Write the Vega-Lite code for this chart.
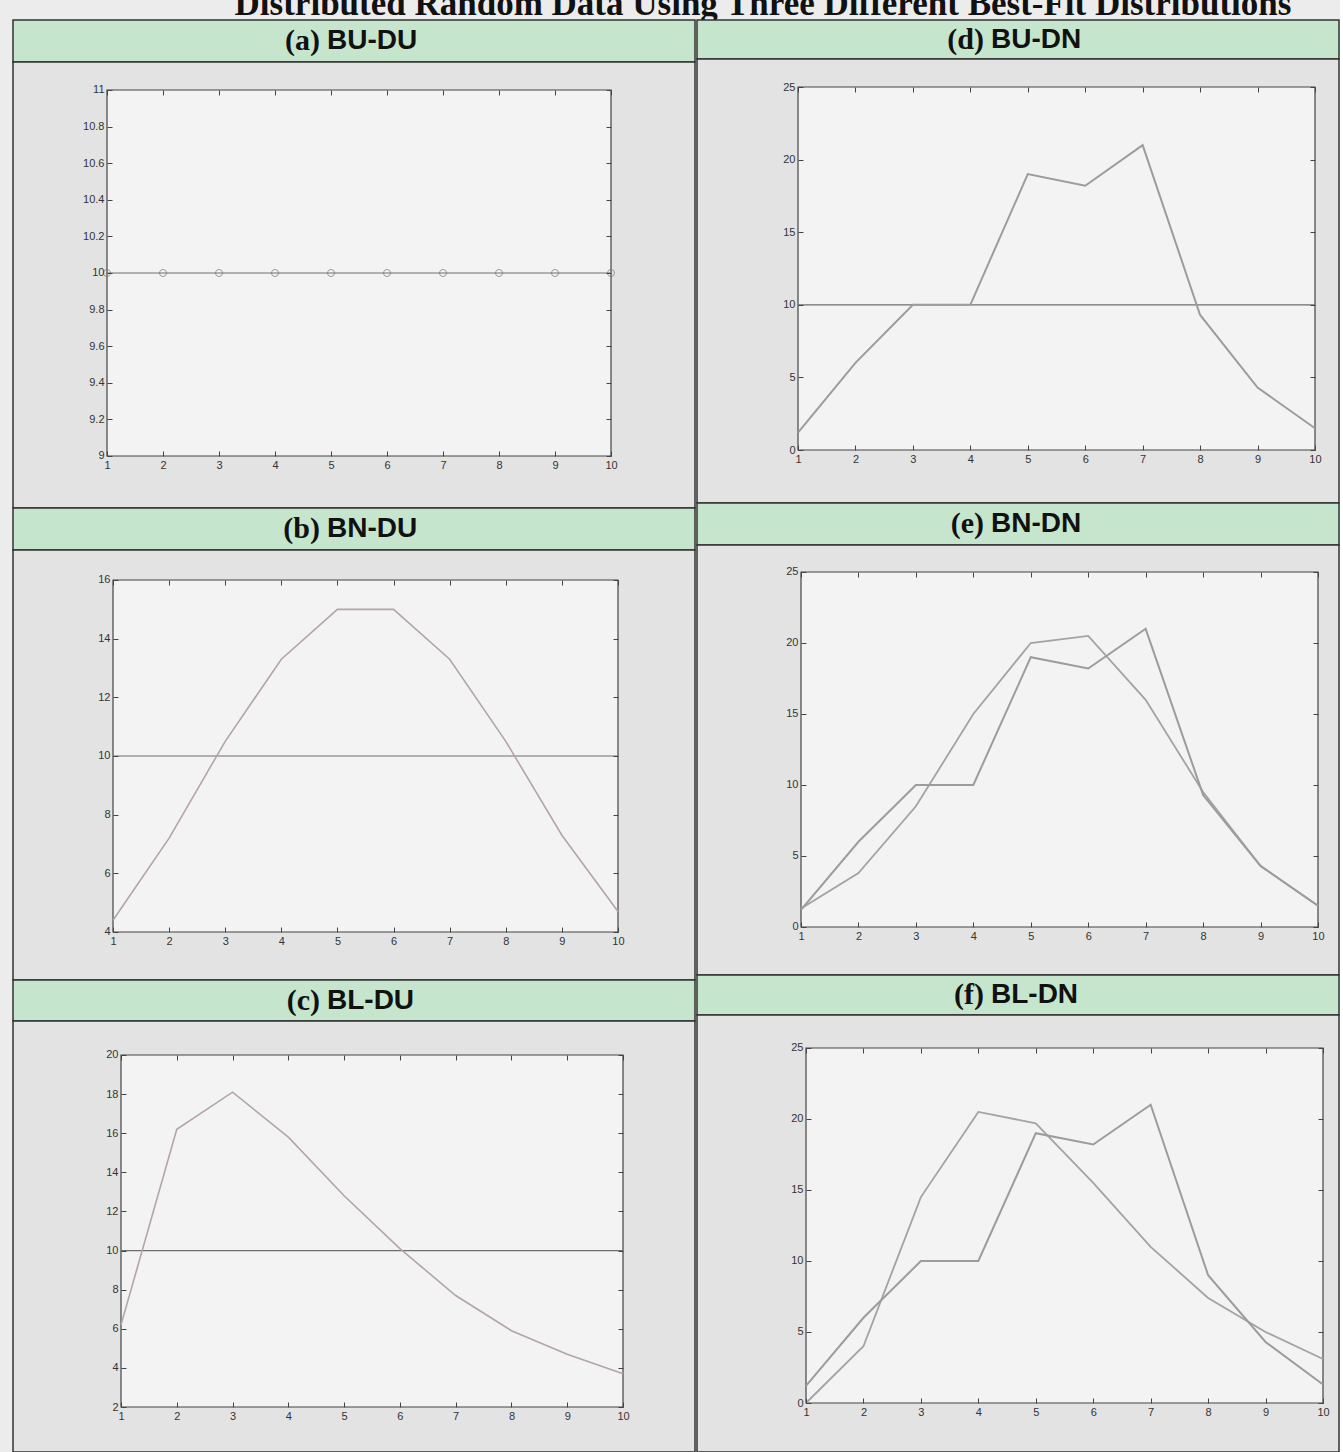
{
  "$schema": "https://vega.github.io/schema/vega-lite/v6.json",
  "background": "#ececec",
  "padding": {"left": 12, "top": 0, "right": 0, "bottom": 0},
  "config": {
    "view": {"stroke": null},
    "axis": {"domain": false, "grid": false, "tickSize": -5, "labelPadding": 8, "tickColor": "#444", "tickWidth": 1, "labelFont": "Liberation Sans", "labelFontSize": 11, "labelColor": "#333", "format": "~r"}
  },
  "datasets": {
    "a": [
      {"x": 1, "y": 10, "s": "data"}, {"x": 2, "y": 10, "s": "data"}, {"x": 3, "y": 10, "s": "data"}, {"x": 4, "y": 10, "s": "data"}, {"x": 5, "y": 10, "s": "data"},
      {"x": 6, "y": 10, "s": "data"}, {"x": 7, "y": 10, "s": "data"}, {"x": 8, "y": 10, "s": "data"}, {"x": 9, "y": 10, "s": "data"}, {"x": 10, "y": 10, "s": "data"}
    ],
    "b": [
      {"x": 1, "y": 4.4, "s": "fit"}, {"x": 2, "y": 7.2, "s": "fit"}, {"x": 3, "y": 10.5, "s": "fit"}, {"x": 4, "y": 13.3, "s": "fit"}, {"x": 5, "y": 15.0, "s": "fit"},
      {"x": 6, "y": 15.0, "s": "fit"}, {"x": 7, "y": 13.3, "s": "fit"}, {"x": 8, "y": 10.5, "s": "fit"}, {"x": 9, "y": 7.3, "s": "fit"}, {"x": 10, "y": 4.7, "s": "fit"},
      {"x": 1, "y": 10, "s": "data"}, {"x": 2, "y": 10, "s": "data"}, {"x": 3, "y": 10, "s": "data"}, {"x": 4, "y": 10, "s": "data"}, {"x": 5, "y": 10, "s": "data"},
      {"x": 6, "y": 10, "s": "data"}, {"x": 7, "y": 10, "s": "data"}, {"x": 8, "y": 10, "s": "data"}, {"x": 9, "y": 10, "s": "data"}, {"x": 10, "y": 10, "s": "data"}
    ],
    "c": [
      {"x": 1, "y": 6.2, "s": "fit"}, {"x": 2, "y": 16.2, "s": "fit"}, {"x": 3, "y": 18.1, "s": "fit"}, {"x": 4, "y": 15.8, "s": "fit"}, {"x": 5, "y": 12.8, "s": "fit"},
      {"x": 6, "y": 10.1, "s": "fit"}, {"x": 7, "y": 7.7, "s": "fit"}, {"x": 8, "y": 5.9, "s": "fit"}, {"x": 9, "y": 4.7, "s": "fit"}, {"x": 10, "y": 3.7, "s": "fit"},
      {"x": 1, "y": 10, "s": "data"}, {"x": 2, "y": 10, "s": "data"}, {"x": 3, "y": 10, "s": "data"}, {"x": 4, "y": 10, "s": "data"}, {"x": 5, "y": 10, "s": "data"},
      {"x": 6, "y": 10, "s": "data"}, {"x": 7, "y": 10, "s": "data"}, {"x": 8, "y": 10, "s": "data"}, {"x": 9, "y": 10, "s": "data"}, {"x": 10, "y": 10, "s": "data"}
    ],
    "d": [
      {"x": 1, "y": 10, "s": "fit"}, {"x": 2, "y": 10, "s": "fit"}, {"x": 3, "y": 10, "s": "fit"}, {"x": 4, "y": 10, "s": "fit"}, {"x": 5, "y": 10, "s": "fit"},
      {"x": 6, "y": 10, "s": "fit"}, {"x": 7, "y": 10, "s": "fit"}, {"x": 8, "y": 10, "s": "fit"}, {"x": 9, "y": 10, "s": "fit"}, {"x": 10, "y": 10, "s": "fit"},
      {"x": 1, "y": 1.2, "s": "data"}, {"x": 2, "y": 6.0, "s": "data"}, {"x": 3, "y": 10.0, "s": "data"}, {"x": 4, "y": 10.0, "s": "data"}, {"x": 5, "y": 19.0, "s": "data"},
      {"x": 6, "y": 18.2, "s": "data"}, {"x": 7, "y": 21.0, "s": "data"}, {"x": 8, "y": 9.3, "s": "data"}, {"x": 9, "y": 4.3, "s": "data"}, {"x": 10, "y": 1.5, "s": "data"}
    ],
    "e": [
      {"x": 1, "y": 1.3, "s": "fit"}, {"x": 2, "y": 3.8, "s": "fit"}, {"x": 3, "y": 8.5, "s": "fit"}, {"x": 4, "y": 15.0, "s": "fit"}, {"x": 5, "y": 20.0, "s": "fit"},
      {"x": 6, "y": 20.5, "s": "fit"}, {"x": 7, "y": 16.0, "s": "fit"}, {"x": 8, "y": 9.5, "s": "fit"}, {"x": 9, "y": 4.3, "s": "fit"}, {"x": 10, "y": 1.5, "s": "fit"},
      {"x": 1, "y": 1.2, "s": "data"}, {"x": 2, "y": 6.0, "s": "data"}, {"x": 3, "y": 10.0, "s": "data"}, {"x": 4, "y": 10.0, "s": "data"}, {"x": 5, "y": 19.0, "s": "data"},
      {"x": 6, "y": 18.2, "s": "data"}, {"x": 7, "y": 21.0, "s": "data"}, {"x": 8, "y": 9.3, "s": "data"}, {"x": 9, "y": 4.3, "s": "data"}, {"x": 10, "y": 1.5, "s": "data"}
    ],
    "f": [
      {"x": 1, "y": 0.0, "s": "fit"}, {"x": 2, "y": 4.0, "s": "fit"}, {"x": 3, "y": 14.5, "s": "fit"}, {"x": 4, "y": 20.5, "s": "fit"}, {"x": 5, "y": 19.7, "s": "fit"},
      {"x": 6, "y": 15.5, "s": "fit"}, {"x": 7, "y": 11.0, "s": "fit"}, {"x": 8, "y": 7.4, "s": "fit"}, {"x": 9, "y": 5.0, "s": "fit"}, {"x": 10, "y": 3.1, "s": "fit"},
      {"x": 1, "y": 1.2, "s": "data"}, {"x": 2, "y": 6.0, "s": "data"}, {"x": 3, "y": 10.0, "s": "data"}, {"x": 4, "y": 10.0, "s": "data"}, {"x": 5, "y": 19.0, "s": "data"},
      {"x": 6, "y": 18.2, "s": "data"}, {"x": 7, "y": 21.0, "s": "data"}, {"x": 8, "y": 9.0, "s": "data"}, {"x": 9, "y": 4.3, "s": "data"}, {"x": 10, "y": 1.3, "s": "data"}
    ]
  },
  "spacing": 0,
  "bounds": "flush",
  "vconcat": [
    {
      "width": 1324, "height": 20,
      "data": {"values": [{"t": "Distributed Random Data Using Three Different Best-Fit Distributions"}]},
      "mark": {"type": "text", "clip": true, "font": "Liberation Serif", "fontWeight": "bold", "fontSize": 35, "baseline": "alphabetic", "dy": 5, "dx": 88, "color": "#111"},
      "encoding": {"text": {"field": "t"}}
    },
    {
      "spacing": 0,
      "bounds": "full",
      "hconcat": [
        {
          "spacing": 0, "bounds": "flush",
          "vconcat": [
            {
              "width": 682, "height": 42,
              "view": {"fill": "#c5e6cd", "stroke": "#333", "strokeWidth": 1.5},
              "data": {"values": [{"tag": "(a)", "name": "BU-DU"}]},
              "layer": [
                {"mark": {"type": "text", "font": "Liberation Serif", "fontWeight": "bold", "fontSize": 30, "align": "right", "dx": -34, "color": "#111"}, "encoding": {"text": {"field": "tag"}}},
                {"mark": {"type": "text", "font": "Liberation Sans", "fontWeight": "bold", "fontSize": 28, "align": "left", "dx": -27, "color": "#111"}, "encoding": {"text": {"field": "name"}}}
              ]
            },
            {
              "width": 682, "height": 446,
              "view": {"fill": "#e3e3e3", "stroke": "#333", "strokeWidth": 1.5},
              "layer": [
                {
                  "data": {"name": "a"},
                  "transform": [{"aggregate": [{"op": "count", "as": "n"}]}],
                  "mark": {"type": "rect", "fill": "#f3f3f3", "stroke": "#444", "strokeWidth": 1.2},
                  "encoding": {
                    "x": {"datum": 1, "type": "quantitative", "scale": {"domain": [-0.6786, 11.5], "nice": false, "zero": false}, "axis": {"orient": "top", "zindex": 1, "offset": -28, "values": [1, 2, 3, 4, 5, 6, 7, 8, 9, 10], "labels": false, "title": null}},
                    "x2": {"datum": 10},
                    "y": {"datum": 9, "type": "quantitative", "scale": {"domain": [8.7158, 11.153], "nice": false, "zero": false}, "axis": {"orient": "right", "zindex": 1, "offset": -84, "values": [9, 9.2, 9.4, 9.6, 9.8, 10, 10.2, 10.4, 10.6, 10.8, 11], "labels": false, "title": null}},
                    "y2": {"datum": 11}
                  }
                },
                {
                  "data": {"name": "a"},
                  "mark": {"type": "line", "color": "#6e6e6e", "strokeWidth": 1.2},
                  "encoding": {
                    "x": {"field": "x", "type": "quantitative", "scale": {"domain": [-0.6786, 11.5], "nice": false, "zero": false}, "axis": {"orient": "bottom", "zindex": 1, "offset": -52, "values": [1, 2, 3, 4, 5, 6, 7, 8, 9, 10], "title": null}},
                    "y": {"field": "y", "type": "quantitative", "scale": {"domain": [8.7158, 11.153], "nice": false, "zero": false}, "axis": {"orient": "left", "zindex": 1, "offset": -94, "values": [9, 9.2, 9.4, 9.6, 9.8, 10, 10.2, 10.4, 10.6, 10.8, 11], "title": null}}
                  }
                },
                {
                  "data": {"name": "a"},
                  "mark": {"type": "point", "shape": "circle", "filled": false, "size": 50, "color": "#777", "strokeWidth": 1},
                  "encoding": {
                    "x": {"field": "x", "type": "quantitative", "scale": {"domain": [-0.6786, 11.5], "nice": false, "zero": false}, "axis": null},
                    "y": {"field": "y", "type": "quantitative", "scale": {"domain": [8.7158, 11.153], "nice": false, "zero": false}, "axis": null}
                  }
                }
              ],
              "resolve": {"axis": {"x": "independent", "y": "independent"}}
            },
            {
              "width": 682, "height": 42,
              "view": {"fill": "#c5e6cd", "stroke": "#333", "strokeWidth": 1.5},
              "data": {"values": [{"tag": "(b)", "name": "BN-DU"}]},
              "layer": [
                {"mark": {"type": "text", "font": "Liberation Serif", "fontWeight": "bold", "fontSize": 30, "align": "right", "dx": -34, "color": "#111"}, "encoding": {"text": {"field": "tag"}}},
                {"mark": {"type": "text", "font": "Liberation Sans", "fontWeight": "bold", "fontSize": 28, "align": "left", "dx": -27, "color": "#111"}, "encoding": {"text": {"field": "name"}}}
              ]
            },
            {
              "width": 682, "height": 430,
              "view": {"fill": "#e3e3e3", "stroke": "#333", "strokeWidth": 1.5},
              "layer": [
                {
                  "data": {"name": "b"},
                  "transform": [{"aggregate": [{"op": "count", "as": "n"}]}],
                  "mark": {"type": "rect", "fill": "#f3f3f3", "stroke": "#444", "strokeWidth": 1.2},
                  "encoding": {
                    "x": {"datum": 1, "type": "quantitative", "scale": {"domain": [-0.7822, 11.3723], "nice": false, "zero": false}, "axis": {"orient": "top", "zindex": 1, "offset": -30, "values": [1, 2, 3, 4, 5, 6, 7, 8, 9, 10], "labels": false, "title": null}},
                    "x2": {"datum": 10},
                    "y": {"datum": 4, "type": "quantitative", "scale": {"domain": [2.3636, 17.0227], "nice": false, "zero": false}, "axis": {"orient": "right", "zindex": 1, "offset": -77, "values": [4, 6, 8, 10, 12, 14, 16], "labels": false, "title": null}},
                    "y2": {"datum": 16}
                  }
                },
                {
                  "data": {"name": "b"},
                  "transform": [{"filter": "datum.s === 'data'"}],
                  "mark": {"type": "line", "color": "#6e6e6e", "strokeWidth": 1.2},
                  "encoding": {
                    "x": {"field": "x", "type": "quantitative", "scale": {"domain": [-0.7822, 11.3723], "nice": false, "zero": false}, "axis": {"orient": "bottom", "zindex": 1, "offset": -48, "values": [1, 2, 3, 4, 5, 6, 7, 8, 9, 10], "title": null}},
                    "y": {"field": "y", "type": "quantitative", "scale": {"domain": [2.3636, 17.0227], "nice": false, "zero": false}, "axis": {"orient": "left", "zindex": 1, "offset": -100, "values": [4, 6, 8, 10, 12, 14, 16], "title": null}}
                  }
                },
                {
                  "data": {"name": "b"},
                  "transform": [{"filter": "datum.s === 'fit'"}],
                  "mark": {"type": "line", "color": "#b3a5a7", "strokeWidth": 1.6},
                  "encoding": {
                    "x": {"field": "x", "type": "quantitative", "scale": {"domain": [-0.7822, 11.3723], "nice": false, "zero": false}, "axis": null},
                    "y": {"field": "y", "type": "quantitative", "scale": {"domain": [2.3636, 17.0227], "nice": false, "zero": false}, "axis": null}
                  }
                }
              ],
              "resolve": {"axis": {"x": "independent", "y": "independent"}}
            },
            {
              "width": 682, "height": 41,
              "view": {"fill": "#c5e6cd", "stroke": "#333", "strokeWidth": 1.5},
              "data": {"values": [{"tag": "(c)", "name": "BL-DU"}]},
              "layer": [
                {"mark": {"type": "text", "font": "Liberation Serif", "fontWeight": "bold", "fontSize": 30, "align": "right", "dx": -34, "color": "#111"}, "encoding": {"text": {"field": "tag"}}},
                {"mark": {"type": "text", "font": "Liberation Sans", "fontWeight": "bold", "fontSize": 28, "align": "left", "dx": -27, "color": "#111"}, "encoding": {"text": {"field": "name"}}}
              ]
            },
            {
              "width": 682, "height": 431,
              "view": {"fill": "#e3e3e3", "stroke": "#333", "strokeWidth": 1.5},
              "layer": [
                {
                  "data": {"name": "c"},
                  "transform": [{"aggregate": [{"op": "count", "as": "n"}]}],
                  "mark": {"type": "rect", "fill": "#f3f3f3", "stroke": "#444", "strokeWidth": 1.2},
                  "encoding": {
                    "x": {"datum": 1, "type": "quantitative", "scale": {"domain": [-0.9363, 11.2908], "nice": false, "zero": false}, "axis": {"orient": "top", "zindex": 1, "offset": -34, "values": [1, 2, 3, 4, 5, 6, 7, 8, 9, 10], "labels": false, "title": null}},
                    "x2": {"datum": 10},
                    "y": {"datum": 2, "type": "quantitative", "scale": {"domain": [-0.3011, 21.7386], "nice": false, "zero": false}, "axis": {"orient": "right", "zindex": 1, "offset": -72, "values": [2, 4, 6, 8, 10, 12, 14, 16, 18, 20], "labels": false, "title": null}},
                    "y2": {"datum": 20}
                  }
                },
                {
                  "data": {"name": "c"},
                  "transform": [{"filter": "datum.s === 'data'"}],
                  "mark": {"type": "line", "color": "#6e6e6e", "strokeWidth": 1.2},
                  "encoding": {
                    "x": {"field": "x", "type": "quantitative", "scale": {"domain": [-0.9363, 11.2908], "nice": false, "zero": false}, "axis": {"orient": "bottom", "zindex": 1, "offset": -45, "values": [1, 2, 3, 4, 5, 6, 7, 8, 9, 10], "title": null}},
                    "y": {"field": "y", "type": "quantitative", "scale": {"domain": [-0.3011, 21.7386], "nice": false, "zero": false}, "axis": {"orient": "left", "zindex": 1, "offset": -108, "values": [2, 4, 6, 8, 10, 12, 14, 16, 18, 20], "title": null}}
                  }
                },
                {
                  "data": {"name": "c"},
                  "transform": [{"filter": "datum.s === 'fit'"}],
                  "mark": {"type": "line", "color": "#b3a5a7", "strokeWidth": 1.6},
                  "encoding": {
                    "x": {"field": "x", "type": "quantitative", "scale": {"domain": [-0.9363, 11.2908], "nice": false, "zero": false}, "axis": null},
                    "y": {"field": "y", "type": "quantitative", "scale": {"domain": [-0.3011, 21.7386], "nice": false, "zero": false}, "axis": null}
                  }
                }
              ],
              "resolve": {"axis": {"x": "independent", "y": "independent"}}
            }
          ]
        },
        {
          "spacing": 0, "bounds": "flush",
          "vconcat": [
            {
              "width": 642, "height": 39,
              "view": {"fill": "#c5e6cd", "stroke": "#333", "strokeWidth": 1.5},
              "data": {"values": [{"tag": "(d)", "name": "BU-DN"}]},
              "layer": [
                {"mark": {"type": "text", "font": "Liberation Serif", "fontWeight": "bold", "fontSize": 30, "align": "right", "dx": -34, "color": "#111"}, "encoding": {"text": {"field": "tag"}}},
                {"mark": {"type": "text", "font": "Liberation Sans", "fontWeight": "bold", "fontSize": 28, "align": "left", "dx": -27, "color": "#111"}, "encoding": {"text": {"field": "name"}}}
              ]
            },
            {
              "width": 642, "height": 444,
              "view": {"fill": "#e3e3e3", "stroke": "#333", "strokeWidth": 1.5},
              "layer": [
                {
                  "data": {"name": "d"},
                  "transform": [{"aggregate": [{"op": "count", "as": "n"}]}],
                  "mark": {"type": "rect", "fill": "#f3f3f3", "stroke": "#444", "strokeWidth": 1.2},
                  "encoding": {
                    "x": {"datum": 1, "type": "quantitative", "scale": {"domain": [-0.7582, 10.4178], "nice": false, "zero": false}, "axis": {"orient": "top", "zindex": 1, "offset": -28, "values": [1, 2, 3, 4, 5, 6, 7, 8, 9, 10], "labels": false, "title": null}},
                    "x2": {"datum": 10},
                    "y": {"datum": 0, "type": "quantitative", "scale": {"domain": [-3.6501, 26.9284], "nice": false, "zero": false}, "axis": {"orient": "right", "zindex": 1, "offset": -24, "values": [0, 5, 10, 15, 20, 25], "labels": false, "title": null}},
                    "y2": {"datum": 25}
                  }
                },
                {
                  "data": {"name": "d"},
                  "transform": [{"filter": "datum.s === 'fit'"}],
                  "mark": {"type": "line", "color": "#6e6e6e", "strokeWidth": 1.2},
                  "encoding": {
                    "x": {"field": "x", "type": "quantitative", "scale": {"domain": [-0.7582, 10.4178], "nice": false, "zero": false}, "axis": {"orient": "bottom", "zindex": 1, "offset": -53, "values": [1, 2, 3, 4, 5, 6, 7, 8, 9, 10], "title": null}},
                    "y": {"field": "y", "type": "quantitative", "scale": {"domain": [-3.6501, 26.9284], "nice": false, "zero": false}, "axis": {"orient": "left", "zindex": 1, "offset": -101, "values": [0, 5, 10, 15, 20, 25], "title": null}}
                  }
                },
                {
                  "data": {"name": "d"},
                  "transform": [{"filter": "datum.s === 'data'"}],
                  "mark": {"type": "line", "color": "#9c9c9c", "strokeWidth": 2},
                  "encoding": {
                    "x": {"field": "x", "type": "quantitative", "scale": {"domain": [-0.7582, 10.4178], "nice": false, "zero": false}, "axis": null},
                    "y": {"field": "y", "type": "quantitative", "scale": {"domain": [-3.6501, 26.9284], "nice": false, "zero": false}, "axis": null}
                  }
                }
              ],
              "resolve": {"axis": {"x": "independent", "y": "independent"}}
            },
            {
              "width": 642, "height": 42,
              "view": {"fill": "#c5e6cd", "stroke": "#333", "strokeWidth": 1.5},
              "data": {"values": [{"tag": "(e)", "name": "BN-DN"}]},
              "layer": [
                {"mark": {"type": "text", "font": "Liberation Serif", "fontWeight": "bold", "fontSize": 30, "align": "right", "dx": -34, "color": "#111"}, "encoding": {"text": {"field": "tag"}}},
                {"mark": {"type": "text", "font": "Liberation Sans", "fontWeight": "bold", "fontSize": 28, "align": "left", "dx": -27, "color": "#111"}, "encoding": {"text": {"field": "name"}}}
              ]
            },
            {
              "width": 642, "height": 430,
              "view": {"fill": "#e3e3e3", "stroke": "#333", "strokeWidth": 1.5},
              "layer": [
                {
                  "data": {"name": "e"},
                  "transform": [{"aggregate": [{"op": "count", "as": "n"}]}],
                  "mark": {"type": "rect", "fill": "#f3f3f3", "stroke": "#444", "strokeWidth": 1.2},
                  "encoding": {
                    "x": {"datum": 1, "type": "quantitative", "scale": {"domain": [-0.8105, 10.3656], "nice": false, "zero": false}, "axis": {"orient": "top", "zindex": 1, "offset": -27, "values": [1, 2, 3, 4, 5, 6, 7, 8, 9, 10], "labels": false, "title": null}},
                    "x2": {"datum": 10},
                    "y": {"datum": 0, "type": "quantitative", "scale": {"domain": [-3.3803, 26.9014], "nice": false, "zero": false}, "axis": {"orient": "right", "zindex": 1, "offset": -21, "values": [0, 5, 10, 15, 20, 25], "labels": false, "title": null}},
                    "y2": {"datum": 25}
                  }
                },
                {
                  "data": {"name": "e"},
                  "transform": [{"filter": "datum.s === 'fit'"}],
                  "mark": {"type": "line", "color": "#a2a2a8", "strokeWidth": 1.8},
                  "encoding": {
                    "x": {"field": "x", "type": "quantitative", "scale": {"domain": [-0.8105, 10.3656], "nice": false, "zero": false}, "axis": {"orient": "bottom", "zindex": 1, "offset": -48, "values": [1, 2, 3, 4, 5, 6, 7, 8, 9, 10], "title": null}},
                    "y": {"field": "y", "type": "quantitative", "scale": {"domain": [-3.3803, 26.9014], "nice": false, "zero": false}, "axis": {"orient": "left", "zindex": 1, "offset": -104, "values": [0, 5, 10, 15, 20, 25], "title": null}}
                  }
                },
                {
                  "data": {"name": "e"},
                  "transform": [{"filter": "datum.s === 'data'"}],
                  "mark": {"type": "line", "color": "#9c9c9c", "strokeWidth": 2},
                  "encoding": {
                    "x": {"field": "x", "type": "quantitative", "scale": {"domain": [-0.8105, 10.3656], "nice": false, "zero": false}, "axis": null},
                    "y": {"field": "y", "type": "quantitative", "scale": {"domain": [-3.3803, 26.9014], "nice": false, "zero": false}, "axis": null}
                  }
                }
              ],
              "resolve": {"axis": {"x": "independent", "y": "independent"}}
            },
            {
              "width": 642, "height": 40,
              "view": {"fill": "#c5e6cd", "stroke": "#333", "strokeWidth": 1.5},
              "data": {"values": [{"tag": "(f)", "name": "BL-DN"}]},
              "layer": [
                {"mark": {"type": "text", "font": "Liberation Serif", "fontWeight": "bold", "fontSize": 30, "align": "right", "dx": -34, "color": "#111"}, "encoding": {"text": {"field": "tag"}}},
                {"mark": {"type": "text", "font": "Liberation Sans", "fontWeight": "bold", "fontSize": 28, "align": "left", "dx": -27, "color": "#111"}, "encoding": {"text": {"field": "name"}}}
              ]
            },
            {
              "width": 642, "height": 437,
              "view": {"fill": "#e3e3e3", "stroke": "#333", "strokeWidth": 1.5},
              "layer": [
                {
                  "data": {"name": "f"},
                  "transform": [{"aggregate": [{"op": "count", "as": "n"}]}],
                  "mark": {"type": "rect", "fill": "#f3f3f3", "stroke": "#444", "strokeWidth": 1.2},
                  "encoding": {
                    "x": {"datum": 1, "type": "quantitative", "scale": {"domain": [-0.8975, 10.2785], "nice": false, "zero": false}, "axis": {"orient": "top", "zindex": 1, "offset": -33, "values": [1, 2, 3, 4, 5, 6, 7, 8, 9, 10], "labels": false, "title": null}},
                    "x2": {"datum": 10},
                    "y": {"datum": 0, "type": "quantitative", "scale": {"domain": [-3.4507, 27.3239], "nice": false, "zero": false}, "axis": {"orient": "right", "zindex": 1, "offset": -16, "values": [0, 5, 10, 15, 20, 25], "labels": false, "title": null}},
                    "y2": {"datum": 25}
                  }
                },
                {
                  "data": {"name": "f"},
                  "transform": [{"filter": "datum.s === 'fit'"}],
                  "mark": {"type": "line", "color": "#a2a2a8", "strokeWidth": 1.8},
                  "encoding": {
                    "x": {"field": "x", "type": "quantitative", "scale": {"domain": [-0.8975, 10.2785], "nice": false, "zero": false}, "axis": {"orient": "bottom", "zindex": 1, "offset": -49, "values": [1, 2, 3, 4, 5, 6, 7, 8, 9, 10], "title": null}},
                    "y": {"field": "y", "type": "quantitative", "scale": {"domain": [-3.4507, 27.3239], "nice": false, "zero": false}, "axis": {"orient": "left", "zindex": 1, "offset": -109, "values": [0, 5, 10, 15, 20, 25], "title": null}}
                  }
                },
                {
                  "data": {"name": "f"},
                  "transform": [{"filter": "datum.s === 'data'"}],
                  "mark": {"type": "line", "color": "#9c9c9c", "strokeWidth": 2},
                  "encoding": {
                    "x": {"field": "x", "type": "quantitative", "scale": {"domain": [-0.8975, 10.2785], "nice": false, "zero": false}, "axis": null},
                    "y": {"field": "y", "type": "quantitative", "scale": {"domain": [-3.4507, 27.3239], "nice": false, "zero": false}, "axis": null}
                  }
                }
              ],
              "resolve": {"axis": {"x": "independent", "y": "independent"}}
            }
          ]
        }
      ]
    }
  ]
}
